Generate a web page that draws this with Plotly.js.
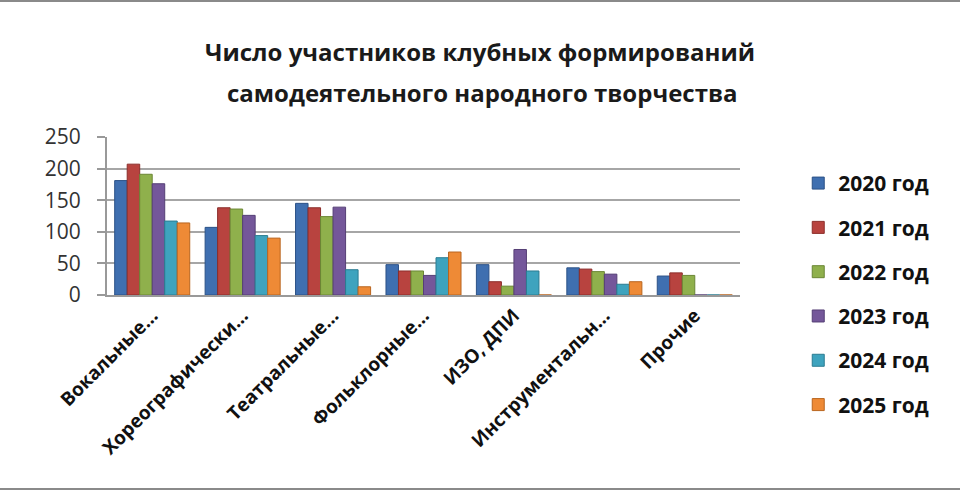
<!DOCTYPE html>
<html>
<head>
<meta charset="utf-8">
<script src="https://cdn.plot.ly/plotly-3.0.1.min.js"></script>
<style>
  body { margin: 0; background: #fff; }
  #chart { width: 960px; height: 486px; border-top: 2px solid #8a8a8a; border-bottom: 2px solid #8a8a8a; }
</style>
</head>
<body>
<div id="chart"></div>
<script>
const categories = ['Вокальные…', 'Хореографически…', 'Театральные…', 'Фольклорные…', 'ИЗО, ДПИ', 'Инструментальн…', 'Прочие'];
const years = ['2020 год', '2021 год', '2022 год', '2023 год', '2024 год', '2025 год'];

const v2020 = [181, 107, 145, 48, 48, 43, 30];
const v2021 = [207, 138, 138, 38, 21, 41, 35];
const v2022 = [191, 136, 124, 38, 14, 37, 31];
const v2023 = [176, 126, 139, 31, 72, 33, 0];
const v2024 = [117, 94, 40, 59, 38, 17, 0];
const v2025 = [114, 90, 13, 68, 0, 21, 0];

const colors = ['#3F6FB0', '#B8433F', '#8FB04C', '#74579A', '#3EA3BE', '#EE8A36'];
const edges = ['#2C5287', '#8C2E2B', '#6B8735', '#553F75', '#2B7C91', '#B9651F'];

const series = [v2020, v2021, v2022, v2023, v2024, v2025];

const traces = series.map((vals, i) => ({
  type: 'bar',
  name: years[i],
  x: categories,
  y: vals,
  legendgroup: 'g' + i,
  marker: { color: colors[i], line: { color: edges[i], width: 1 } },
  hoverinfo: 'x+y+name'
}));

// plot area is kept tall so the legend is not clipped; the axes sit in a domain
const layout = {
  width: 960,
  height: 486,
  paper_bgcolor: '#fff',
  plot_bgcolor: 'rgba(0,0,0,0)',
  margin: { l: 107, r: 220, t: 10, b: 10 },
  font: { family: 'Open Sans, sans-serif', color: '#222' },
  title: {
    text: 'Число участников клубных формирований',
    font: { size: 24, color: '#1a1a1a', weight: 'bold' },
    x: 0.5, xanchor: 'center',
    y: 0.895, yanchor: 'middle'
  },
  annotations: [{
    text: 'самодеятельного народного творчества',
    xref: 'paper', yref: 'paper',
    x: 0.5 + (482 - (107 + 633 / 2)) / 633, xanchor: 'center',
    y: 0.828, yanchor: 'middle',
    showarrow: false,
    font: { size: 24, color: '#1a1a1a', weight: 'bold' }
  }],
  barmode: 'group',
  bargap: 0.17,
  bargroupgap: 0,
  xaxis: {
    type: 'category',
    domain: [0, 1],
    tickangle: -45,
    tickfont: { size: 19, color: '#111', weight: 'bold' },
    showline: true,
    linecolor: '#999',
    linewidth: 2,
    ticks: '',
    showgrid: false
  },
  yaxis: {
    domain: [0.3927, 0.7318],
    range: [0, 250],
    tickvals: [0, 50, 100, 150, 200, 250],
    tickfont: { size: 21, color: '#333' },
    showgrid: true,
    gridcolor: '#a6a6a6',
    gridwidth: 2,
    zeroline: false,
    showline: true,
    linecolor: '#999',
    linewidth: 2,
    ticks: 'outside',
    ticklen: 8,
    ticklabelstandoff: 12,
    tickcolor: '#999',
    tickwidth: 2
  },
  legend: {
    x: 1.092, xanchor: 'left',
    y: 0.395, yanchor: 'middle',
    font: { size: 21, color: '#111', weight: 'bold' },
    tracegroupgap: 14,
    bgcolor: 'rgba(0,0,0,0)'
  },
  showlegend: true
};

Plotly.newPlot('chart', traces, layout, { displayModeBar: false, staticPlot: true });
</script>
</body>
</html>
